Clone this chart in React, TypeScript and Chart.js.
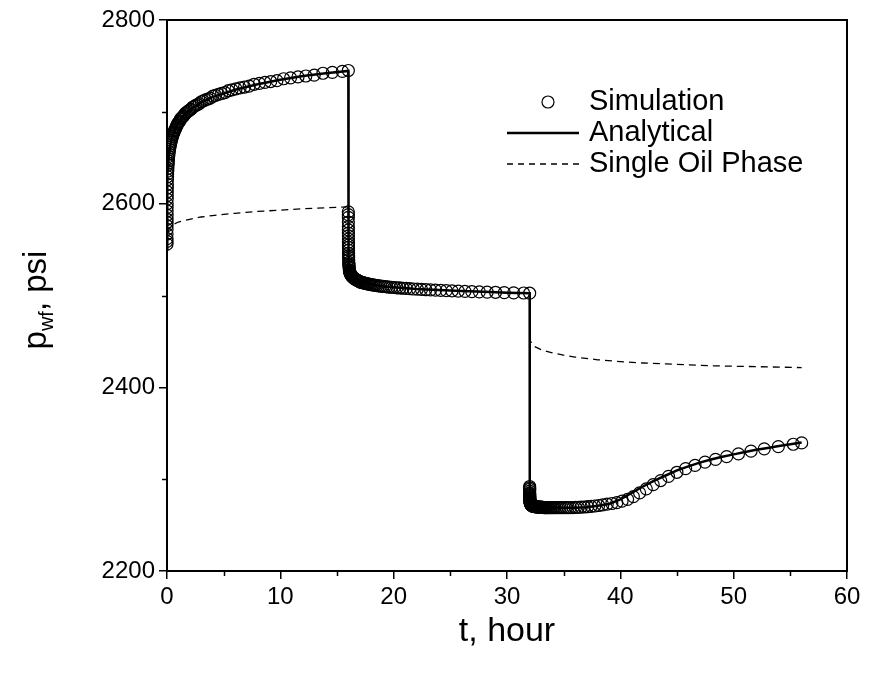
import React, { useEffect, useRef } from "react";
import { Chart, registerables } from "chart.js";

Chart.register(...registerables);

// ---------- data ----------
const sim1T = [0.001, 0.0015, 0.002, 0.003, 0.004, 0.005, 0.006, 0.007, 0.0085, 0.01, 0.012, 0.014, 0.017, 0.02, 0.024, 0.028, 0.033, 0.04, 0.047, 0.055, 0.065, 0.077, 0.09, 0.1, 0.115, 0.13, 0.15, 0.17, 0.195, 0.22, 0.25, 0.28, 0.31, 0.35, 0.39, 0.43, 0.48, 0.52, 0.57, 0.62, 0.67, 0.72, 0.78, 0.83, 0.89, 0.94, 1.0,
  1.06, 1.12, 1.19, 1.26, 1.34, 1.42, 1.5, 1.59, 1.69, 1.79, 1.9, 2.01, 2.13, 2.26, 2.4, 2.54, 2.69, 2.85, 3.03, 3.21, 3.4, 3.6, 3.82, 4.05, 4.29, 4.55, 4.82, 5.11, 5.42, 5.74, 6.09, 6.45, 6.84, 7.25, 7.69, 8.15, 8.64, 9.15, 9.7, 10.29, 10.9, 11.56, 12.25, 12.99, 13.76, 14.59, 15.47, 16.0];
const sim1P = [2556, 2559, 2562, 2567, 2572, 2576, 2579.5, 2583, 2587.5, 2592, 2596, 2600, 2605, 2609, 2613, 2617, 2621, 2626, 2629.5, 2632.5, 2635.5, 2638.5, 2642, 2644, 2646.5, 2649, 2651.5, 2654, 2656.5, 2659, 2661, 2663, 2665, 2667, 2669, 2671, 2673, 2675, 2676.5, 2678, 2679.5, 2681, 2682.5, 2684, 2685.5, 2687, 2688,
  2689, 2690, 2692, 2693, 2694, 2695, 2696, 2698, 2699, 2700, 2701, 2702, 2703, 2705, 2706, 2707, 2708, 2709, 2711, 2712, 2713, 2714, 2715, 2717, 2718, 2719, 2720, 2721, 2723, 2724, 2725, 2726, 2727, 2728, 2730, 2731, 2732, 2733, 2734, 2736, 2737, 2738, 2739, 2740, 2742, 2743, 2744, 2745];

const sim2T = [16.001, 16.0015, 16.002, 16.003, 16.004, 16.005, 16.006, 16.007, 16.0085, 16.01, 16.012, 16.014, 16.017, 16.02, 16.024, 16.028, 16.033, 16.04, 16.047, 16.055, 16.065, 16.077, 16.09, 16.1, 16.115, 16.13, 16.15, 16.17, 16.195, 16.22, 16.25, 16.28, 16.31, 16.35, 16.39, 16.43, 16.48, 16.52, 16.57, 16.62, 16.67, 16.72, 16.78, 16.83, 16.89, 16.94, 17.0,
  17.06, 17.12, 17.19, 17.26, 17.34, 17.42, 17.5, 17.59, 17.69, 17.79, 17.9, 18.01, 18.13, 18.26, 18.4, 18.54, 18.69, 18.85, 19.03, 19.21, 19.4, 19.6, 19.82, 20.05, 20.29, 20.55, 20.82, 21.11, 21.42, 21.74, 22.09, 22.45, 22.84, 23.25, 23.69, 24.15, 24.64, 25.15, 25.7, 26.29, 26.9, 27.56, 28.25, 28.99, 29.76, 30.59, 31.47, 32.0];
const sim2P = [2591, 2588, 2585, 2580, 2575, 2571.5, 2568, 2565, 2561.5, 2558, 2555, 2552.5, 2549.5, 2546, 2543.5, 2541.5, 2539, 2536, 2534.5, 2533, 2531.5, 2530, 2528, 2527, 2526, 2525.5, 2524.7, 2524, 2523.2, 2522.5, 2522, 2521.5, 2521, 2520.5, 2520, 2519.5, 2519, 2518.5, 2518.1, 2517.7, 2517.3, 2517, 2516.6, 2516.3, 2515.9, 2515.6, 2515,
  2514.7, 2514.5, 2514.2, 2514.0, 2513.7, 2513.4, 2513.2, 2512.9, 2512.6, 2512.4, 2512.1, 2511.9, 2511.6, 2511.3, 2511.1, 2510.8, 2510.5, 2510.3, 2510.0, 2509.8, 2509.5, 2509.2, 2509.0, 2508.7, 2508.4, 2508.2, 2507.9, 2507.7, 2507.4, 2507.1, 2506.9, 2506.6, 2506.3, 2506.1, 2505.8, 2505.6, 2505.3, 2505.0, 2504.8, 2504.5, 2504.2, 2504.0, 2503.7, 2503.5, 2503.2, 2502.9, 2502.7, 2502.5];

const sim3T = [32.001, 32.0015, 32.002, 32.003, 32.004, 32.005, 32.006, 32.007, 32.0085, 32.01, 32.012, 32.014, 32.017, 32.02, 32.024, 32.028, 32.033, 32.04, 32.047, 32.055, 32.065, 32.077, 32.09, 32.1, 32.115, 32.13, 32.15, 32.17, 32.195, 32.22, 32.25, 32.28, 32.31, 32.35, 32.39, 32.43, 32.48, 32.52, 32.57, 32.62, 32.67, 32.72, 32.78, 32.83, 32.89, 32.94, 33.0,
  33.06, 33.12, 33.19, 33.26, 33.34, 33.42, 33.5, 33.59, 33.69, 33.79, 33.9, 34.01, 34.13, 34.26, 34.4, 34.54, 34.69, 34.85, 35.03, 35.21, 35.4, 35.6, 35.82, 36.05, 36.29, 36.55, 36.82, 37.11, 37.42, 37.74, 38.09, 38.45, 38.84, 39.25, 39.69, 40.15, 40.64, 41.15, 41.7, 42.29, 42.9, 43.56, 44.25, 44.99, 45.76, 46.59, 47.47, 48.4, 49.38, 50.42, 51.53, 52.7, 53.94, 55.26, 56.0];
const sim3P = [2292, 2290.5, 2289, 2287, 2285, 2284, 2283, 2282, 2281, 2280, 2279.3, 2278.6, 2277.7, 2277, 2276.5, 2276, 2275.5, 2274.5, 2274.2, 2273.8, 2273.4, 2273.1, 2272.8, 2272.5, 2272.3, 2272, 2271.8, 2271.5, 2271.2, 2271, 2270.8, 2270.7, 2270.5, 2270.4, 2270.3, 2270.2, 2270.1, 2270, 2269.9, 2269.8, 2269.8, 2269.7, 2269.6, 2269.6, 2269.5, 2269.5, 2269.5,
  2269.4, 2269.3, 2269.2, 2269.1, 2269, 2269, 2269, 2269, 2269, 2269, 2269, 2269, 2269, 2269, 2269, 2269, 2269, 2269, 2269, 2269, 2269, 2269, 2269.1, 2269.2, 2269.3, 2269.5, 2269.7, 2270, 2270.4, 2270.8, 2271.3, 2272, 2272.8, 2273.5, 2274.5, 2276, 2278, 2281, 2285, 2289.5, 2294, 2298.5, 2303, 2307.5, 2311.5, 2315, 2318.5, 2321.5, 2324.5, 2327.5, 2330.5, 2333, 2335.5, 2338, 2339.5];

const anaT = [0, 0.005, 0.02, 0.05, 0.1, 0.2, 0.4, 0.7, 1, 1.5, 2, 3, 4, 5, 6, 8, 10, 12, 14, 16,
  16.0001, 16.005, 16.02, 16.05, 16.1, 16.2, 16.4, 16.7, 17, 18, 19, 20, 22, 24, 26, 28, 30, 32,
  32.0001, 32.005, 32.02, 32.05, 32.1, 32.3, 33, 35, 36, 37, 38, 39, 40, 41, 42, 43, 44, 45, 46, 47, 48, 49, 50, 51, 52, 53, 54, 55, 56];
const anaP = [2550, 2575, 2608, 2630, 2643, 2656, 2670, 2681, 2688, 2696, 2702, 2710, 2716, 2720, 2724, 2730, 2735, 2739, 2742, 2744.5,
  2590, 2572, 2546, 2534, 2527, 2523, 2520, 2517.5, 2515, 2512, 2510, 2509, 2507, 2506, 2505, 2504, 2503, 2502.5,
  2291, 2283, 2277, 2274, 2272.5, 2271, 2269.5, 2269, 2269, 2269.5, 2271, 2273, 2278, 2285, 2292, 2298.5, 2304, 2309.5, 2314, 2318, 2321.5, 2324.5, 2327, 2329.5, 2332, 2334, 2336, 2338, 2340];

const oilT = [0, 0.05, 0.2, 0.5, 1, 2, 3, 4, 6, 8, 10, 12, 14, 16,
  16.01, 16.1, 16.5, 17, 20, 24, 28, 32,
  32.01, 32.05, 32.2, 32.5, 33, 34, 35, 36, 38, 40, 42, 44, 46, 48, 50, 52, 54, 56];
const oilP = [2555, 2568, 2573, 2577, 2580, 2583, 2585.5, 2587, 2589.5, 2591.5, 2593, 2594.5, 2595.5, 2596.5,
  2545, 2527, 2519, 2515, 2509, 2506, 2504, 2502.5,
  2455, 2451, 2447, 2444, 2441, 2437.5, 2435, 2433, 2430, 2428, 2426.5, 2425.5, 2424.5, 2423.5, 2423, 2422.5, 2422, 2421.5];

const xTicks = [0, 10, 20, 30, 40, 50, 60];
const xMinorTicks = [5, 15, 25, 35, 45, 55];
const yTicks = [2200, 2400, 2600, 2800];
const yMinorTicks = [2300, 2500, 2700];
const legendLabels = ["Simulation", "Analytical", "Single Oil Phase"];
const xTitle = "t, hour";
const yTitleMain = "p";
const yTitleSub = "wf";
const yTitleRest = ", psi";

const FONT = "'Liberation Sans', Arial, Helvetica, sans-serif";

function pts(t: number[], p: number[]) {
  const n = Math.min(t.length, p.length);
  const out: { x: number; y: number }[] = [];
  for (let i = 0; i < n; i++) out.push({ x: t[i], y: p[i] });
  return out;
}

const decorPlugin = {
  id: "decor",
  afterDraw(chart: any) {
    const { ctx, chartArea, scales } = chart;
    const xs = scales.x;
    const ys = scales.y;
    ctx.save();
    // frame
    ctx.strokeStyle = "#000";
    ctx.lineWidth = 2;
    ctx.setLineDash([]);
    ctx.strokeRect(chartArea.left, chartArea.top, chartArea.right - chartArea.left, chartArea.bottom - chartArea.top);
    // minor ticks
    ctx.lineWidth = 1.5;
    ctx.beginPath();
    xMinorTicks.forEach((v) => {
      const px = Math.round(xs.getPixelForValue(v)) + 0.5;
      ctx.moveTo(px, chartArea.bottom);
      ctx.lineTo(px, chartArea.bottom + 5);
    });
    yMinorTicks.forEach((v) => {
      const py = Math.round(ys.getPixelForValue(v)) + 0.5;
      ctx.moveTo(chartArea.left, py);
      ctx.lineTo(chartArea.left - 5, py);
    });
    ctx.stroke();

    // legend
    const lx1 = 507, lx2 = 579, tx = 589;
    const rows = [102, 133, 164];
    ctx.fillStyle = "#000";
    ctx.font = `29px ${FONT}`;
    ctx.textBaseline = "middle";
    ctx.textAlign = "left";
    legendLabels.forEach((lab, i) => ctx.fillText(lab, tx, rows[i]));
    ctx.lineWidth = 1.2;
    ctx.beginPath();
    ctx.arc(548, rows[0], 6, 0, Math.PI * 2);
    ctx.stroke();
    ctx.lineWidth = 2.5;
    ctx.beginPath();
    ctx.moveTo(lx1, rows[1]);
    ctx.lineTo(lx2, rows[1]);
    ctx.stroke();
    ctx.lineWidth = 1.3;
    ctx.setLineDash([6, 5]);
    ctx.beginPath();
    ctx.moveTo(lx1, rows[2]);
    ctx.lineTo(lx2, rows[2]);
    ctx.stroke();
    ctx.setLineDash([]);

    // x title
    ctx.font = `34px ${FONT}`;
    ctx.textAlign = "center";
    ctx.textBaseline = "alphabetic";
    ctx.fillText(xTitle, (chartArea.left + chartArea.right) / 2, 641);

    // y title (rotated, with subscript)
    const mainFont = `33px ${FONT}`;
    const subFont = `20px ${FONT}`;
    ctx.font = mainFont;
    const w1 = ctx.measureText(yTitleMain).width;
    const w3 = ctx.measureText(yTitleRest).width;
    ctx.font = subFont;
    const w2 = ctx.measureText(yTitleSub).width;
    const total = w1 + w2 + w3;
    ctx.translate(46, 300);
    ctx.rotate(-Math.PI / 2);
    ctx.textAlign = "left";
    let x0 = -total / 2;
    ctx.font = mainFont;
    ctx.fillText(yTitleMain, x0, 0);
    x0 += w1;
    ctx.font = subFont;
    ctx.fillText(yTitleSub, x0, 7);
    x0 += w2;
    ctx.font = mainFont;
    ctx.fillText(yTitleRest, x0, 0);
    ctx.restore();
  },
};

export default function App() {
  const ref = useRef<HTMLCanvasElement | null>(null);
  useEffect(() => {
    if (!ref.current) return;
    const simData = [...pts(sim1T, sim1P), ...pts(sim2T, sim2P), ...pts(sim3T, sim3P)];
    const chart = new Chart(ref.current, {
      type: "line",
      data: {
        datasets: [
          {
            label: legendLabels[0],
            data: simData,
            showLine: false,
            pointStyle: "circle",
            pointRadius: 6,
            pointBorderWidth: 1.2,
            pointBorderColor: "#000",
            pointBackgroundColor: "rgba(0,0,0,0)",
            borderColor: "#000",
            backgroundColor: "rgba(0,0,0,0)",
            order: 3,
          },
          {
            label: legendLabels[1],
            data: pts(anaT, anaP),
            borderColor: "#000",
            borderWidth: 2.5,
            pointRadius: 0,
            tension: 0,
            fill: false,
            order: 2,
          },
          {
            label: legendLabels[2],
            data: pts(oilT, oilP),
            borderColor: "#000",
            borderWidth: 1.3,
            borderDash: [7, 5],
            pointRadius: 0,
            tension: 0,
            fill: false,
            order: 1,
          },
        ],
      },
      options: {
        responsive: false,
        animation: false,
        devicePixelRatio: 1,
        layout: { padding: { top: 20, right: 22, left: 0, bottom: 0 } },
        plugins: { legend: { display: false }, tooltip: { enabled: false } },
        scales: {
          x: {
            type: "linear",
            min: 0,
            max: 60,
            afterBuildTicks: (s: any) => {
              s.ticks = xTicks.map((v) => ({ value: v }));
            },
            afterFit: (s: any) => {
              s.height = 108;
            },
            ticks: {
              color: "#000",
              font: { size: 24, family: FONT },
              padding: 4,
              maxRotation: 0,
              autoSkip: false,
              callback: (v: any) => String(v),
            },
            grid: { drawOnChartArea: false, drawTicks: true, tickLength: 8, color: "#000", lineWidth: 1.5 },
            border: { display: true, color: "#000", width: 2 },
          },
          y: {
            type: "linear",
            min: 2200,
            max: 2800,
            afterBuildTicks: (s: any) => {
              s.ticks = yTicks.map((v) => ({ value: v }));
            },
            afterFit: (s: any) => {
              s.width = 167;
            },
            ticks: {
              color: "#000",
              font: { size: 24, family: FONT },
              padding: 4,
              autoSkip: false,
              callback: (v: any) => String(v),
            },
            grid: { drawOnChartArea: false, drawTicks: true, tickLength: 8, color: "#000", lineWidth: 1.5 },
            border: { display: true, color: "#000", width: 2 },
          },
        },
      },
      plugins: [decorPlugin],
    });
    return () => chart.destroy();
  }, []);
  return (
    <canvas
      ref={ref}
      width={869}
      height={679}
      style={{ position: "absolute", left: 0, top: 0, width: 869, height: 679, background: "#fff" }}
    />
  );
}
